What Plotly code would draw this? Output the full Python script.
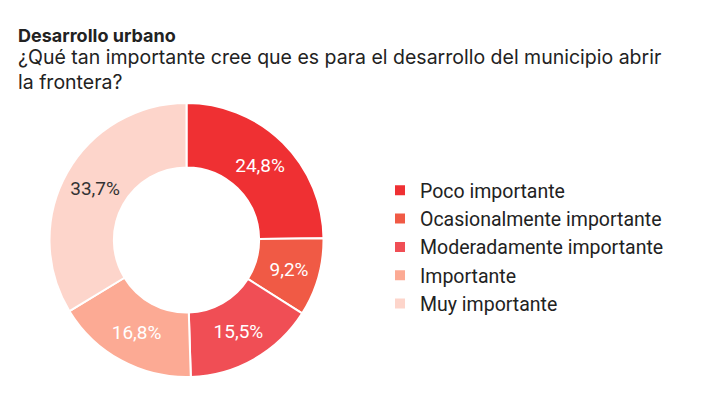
import plotly.graph_objects as go

labels = ["Poco importante", "Ocasionalmente importante", "Moderadamente importante",
          "Importante", "Muy importante"]
values = [24.8, 9.2, 15.5, 16.8, 33.7]
colors = ["#EF3033", "#F05A45", "#F04E55", "#FCAA94", "#FDD5CB"]
text_colors = ["#FFFFFF", "#FFFFFF", "#FFFFFF", "#FFFFFF", "#333333"]
title = "Desarrollo urbano"
subtitle = "¿Qué tan importante cree que es para el desarrollo del municipio abrir<br>la frontera?"

W, H = 720, 405

fig = go.Figure(go.Pie(
    labels=labels,
    values=values,
    sort=False,
    direction="clockwise",
    rotation=0,
    hole=0.53,
    marker=dict(colors=colors, line=dict(color="#FFFFFF", width=2)),
    texttemplate="%{value:.1f}%",
    textposition="inside",
    insidetextorientation="horizontal",
    textfont=dict(family="Roboto", size=19, color=text_colors),
    domain=dict(x=[48 / W, 325 / W], y=[(H - 377) / H, (H - 103) / H]),
    hoverinfo="label+percent",
))

fig.update_layout(
    width=W, height=H,
    margin=dict(l=0, r=0, t=0, b=0),
    paper_bgcolor="#FFFFFF",
    plot_bgcolor="#FFFFFF",
    separators=",.",
    showlegend=True,
    legend=dict(
        x=380 / W, xanchor="left",
        y=(H - 171) / H, yanchor="top",
        font=dict(family="Roboto", size=19.5, color="#222222"),
        bgcolor="rgba(0,0,0,0)",
    ),
    annotations=[
        dict(text="<b>" + title + "</b>", x=16 / W, y=(H - 23) / H, xref="paper", yref="paper",
             xanchor="left", yanchor="top", showarrow=False, align="left",
             font=dict(family="Inter", size=18, color="#222222")),
        dict(text=subtitle, x=16 / W, y=(H - 43) / H, xref="paper", yref="paper",
             xanchor="left", yanchor="top", showarrow=False, align="left",
             font=dict(family="Inter", size=19.5, color="#222222")),
    ],
)

fig.write_html("out.html")
